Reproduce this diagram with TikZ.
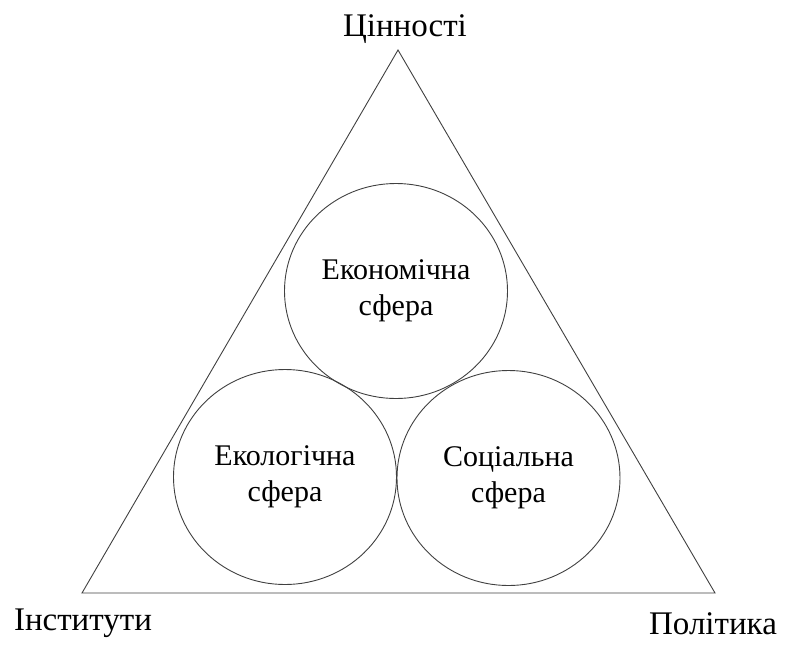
\documentclass[tikz,border=0pt]{standalone}
\usepackage{fontspec}
\setmainfont{Liberation Serif}
\usetikzlibrary{shapes.geometric}
\begin{document}
\begin{tikzpicture}[x=1pt,y=-1pt,
  outline/.style={draw=black!75,line width=0.9pt},
  sphere/.style={outline,ellipse,minimum width=223pt,minimum height=215pt,inner sep=0pt,
    align=center,font=\fontsize{30}{36}\selectfont},
  corner/.style={font=\fontsize{33}{38}\selectfont,inner sep=0pt,anchor=base}]
\useasboundingbox (0,0) rectangle (787,646);
% triangle of values, institutions and policy
\coordinate (top) at (398,50);
\coordinate (bl) at (82,593);
\coordinate (br) at (715,593);
\draw[outline,line join=miter] (top) -- (bl) -- (br) -- cycle;
% the three spheres
\node[sphere] (econ) at (396,291) {Економічна\\сфера};
\node[sphere] (eco) at (285,477) {Екологічна\\сфера};
\node[sphere] (soc) at (508.5,478) {Соціальна\\сфера};
% corner labels
\node[corner] (val) at (405,36) {Цінності};
\node[corner] (inst) at (83,630) {Інститути};
\node[corner] (pol) at (713,634) {Політика};
\end{tikzpicture}
\end{document}
